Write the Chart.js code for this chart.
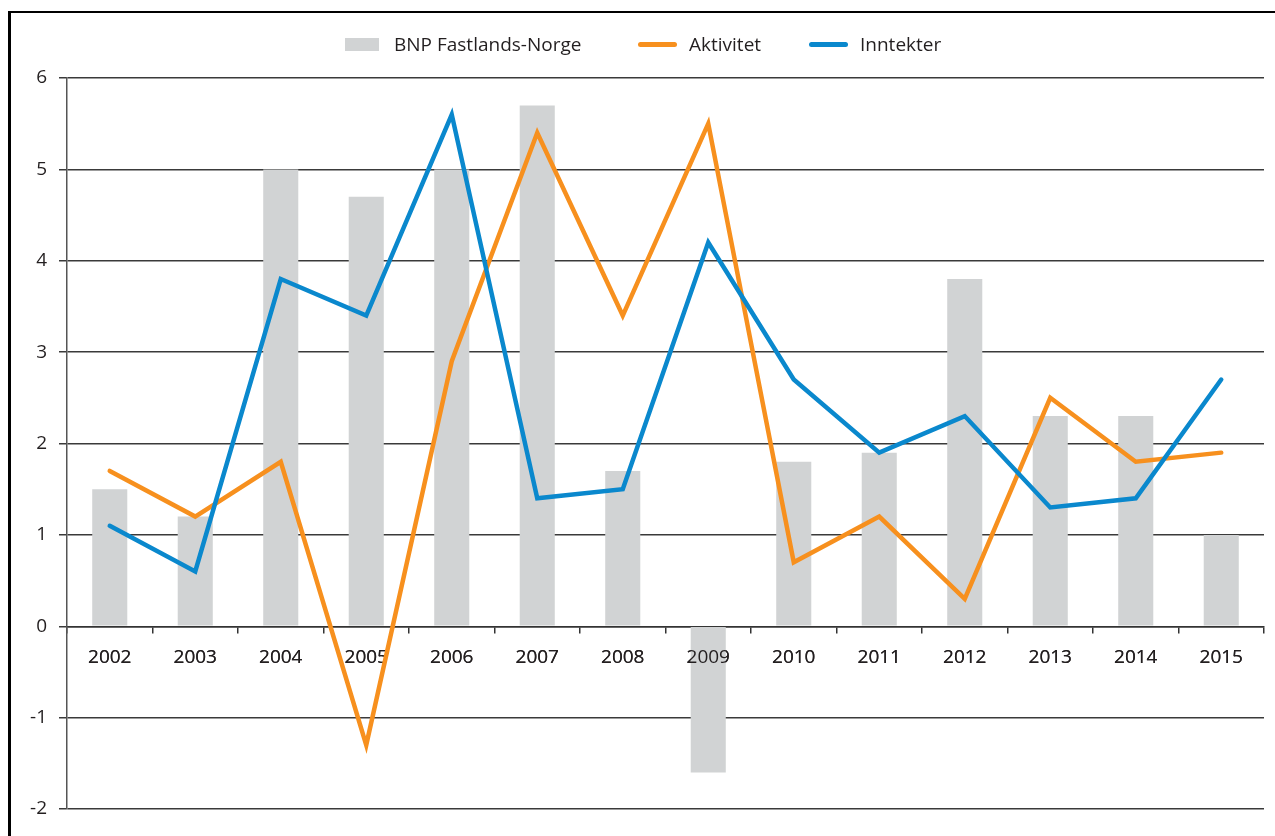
<!DOCTYPE html>
<html>
<head>
<meta charset="utf-8">
<script src="https://cdn.jsdelivr.net/npm/chart.js@4.4.0/dist/chart.umd.min.js"></script>
<style>
  html, body { margin: 0; padding: 0; background: #fff; overflow: hidden; }
  #wrap { position: relative; width: 1275px; height: 836px; }
  #frame { position: absolute; left: 8px; top: 11px; width: 1300px; height: 900px;
           border-top: 2px solid #000; border-left: 3px solid #000; pointer-events: none; }
  #legend { position: absolute; left: 0; top: 0; width: 1275px; height: 70px;
            font-family: 'Open Sans', sans-serif; font-size: 19px; color: #231f20; }
  .item { position: absolute; top: 33px; height: 22px; display: flex; align-items: center; white-space: nowrap; }
  .mark { display: inline-block; margin-right: 14px; }
</style>
</head>
<body>
<div id="wrap">
  <canvas id="chart" width="1275" height="836"></canvas>
  <div id="legend"></div>
  <div id="frame"></div>
</div>
<script>
var years = ['2002', '2003', '2004', '2005', '2006', '2007', '2008', '2009', '2010', '2011', '2012', '2013', '2014', '2015'];
var bnp = [1.5, 1.2, 5.0, 4.7, 5.0, 5.7, 1.7, -1.6, 1.8, 1.9, 3.8, 2.3, 2.3, 1.0];
var aktivitet = [1.7, 1.2, 1.8, -1.3, 2.9, 5.4, 3.4, 5.5, 0.7, 1.2, 0.3, 2.5, 1.8, 1.9];
var inntekter = [1.1, 0.6, 3.8, 3.4, 5.6, 1.4, 1.5, 4.2, 2.7, 1.9, 2.3, 1.3, 1.4, 2.7];

var grey = '#d1d3d4';
var orange = '#f7901e';
var blue = '#0a88cd';
var textColor = '#231f20';

var legendX = [345, 638, 809];

// year labels sit on top of the bars but under the lines
var labelsOverBars = {
    id: 'labelsOverBars',
    afterDatasetDraw: function(chart, args) {
        if (chart.data.datasets[args.index].type !== 'line') {
            chart.scales.x.drawLabels(chart.chartArea);
        }
    }
};

var config = {
    type: 'bar',
    data: {
        labels: years,
        datasets: [{
            type: 'line',
            label: 'Aktivitet',
            data: aktivitet,
            borderColor: orange,
            backgroundColor: orange,
            borderWidth: 4.5,
            pointRadius: 0,
            tension: 0,
            borderCapStyle: 'round',
            borderJoinStyle: 'miter',
            order: 1
        }, {
            type: 'line',
            label: 'Inntekter',
            data: inntekter,
            borderColor: blue,
            backgroundColor: blue,
            borderWidth: 4.5,
            pointRadius: 0,
            tension: 0,
            borderCapStyle: 'round',
            borderJoinStyle: 'miter',
            order: 0
        }, {
            label: 'BNP Fastlands-Norge',
            data: bnp,
            backgroundColor: grey,
            barPercentage: 0.41,
            categoryPercentage: 1,
            order: 2
        }]
    },
    options: {
        responsive: false,
        animation: false,
        layout: {
            padding: { top: 78, right: 11, bottom: 27, left: 0 }
        },
        plugins: {
            legend: { display: false },
            tooltip: { enabled: false }
        },
        scales: {
            x: {
                position: { y: 0 },
                offset: true,
                grid: {
                    offset: true,
                    drawOnChartArea: false,
                    drawTicks: true,
                    tickLength: 6,
                    color: '#333',
                    lineWidth: 1.5
                },
                border: { display: true, color: '#333', width: 1.5 },
                ticks: {
                    color: textColor,
                    font: { family: 'Open Sans', size: 19 },
                    padding: 14,
                    maxRotation: 0
                }
            },
            y: {
                min: -2,
                max: 6,
                ticks: {
                    stepSize: 1,
                    color: textColor,
                    font: { family: 'Open Sans', size: 19 },
                    padding: 12
                },
                grid: {
                    color: '#3a3a3a',
                    lineWidth: 1.5,
                    tickLength: 8
                },
                border: { display: true, color: '#555', width: 1.5 },
                afterFit: function(scale) {
                    scale.width = 67;
                }
            }
        }
    },
    plugins: [labelsOverBars]
};

window.onload = function() {
    var ctx = document.getElementById('chart').getContext('2d');
    var chart = new Chart(ctx, config);

    // legend in the same order as the original: bars first, then the two lines
    var legend = document.getElementById('legend');
    var orderOfItems = [2, 0, 1];
    orderOfItems.forEach(function(idx, i) {
        var ds = chart.data.datasets[idx];
        var item = document.createElement('div');
        item.className = 'item';
        item.style.left = legendX[i] + 'px';
        var mark = document.createElement('span');
        mark.className = 'mark';
        if (ds.type === 'line') {
            mark.style.width = '39px';
            mark.style.height = '5px';
            mark.style.borderRadius = '3px';
            mark.style.background = ds.borderColor;
            mark.style.marginRight = '12px';
        } else {
            mark.style.width = '34px';
            mark.style.height = '13px';
            mark.style.background = ds.backgroundColor;
            mark.style.marginRight = '15px';
        }
        var txt = document.createElement('span');
        txt.textContent = ds.label;
        item.appendChild(mark);
        item.appendChild(txt);
        legend.appendChild(item);
    });
};
</script>
</body>
</html>
